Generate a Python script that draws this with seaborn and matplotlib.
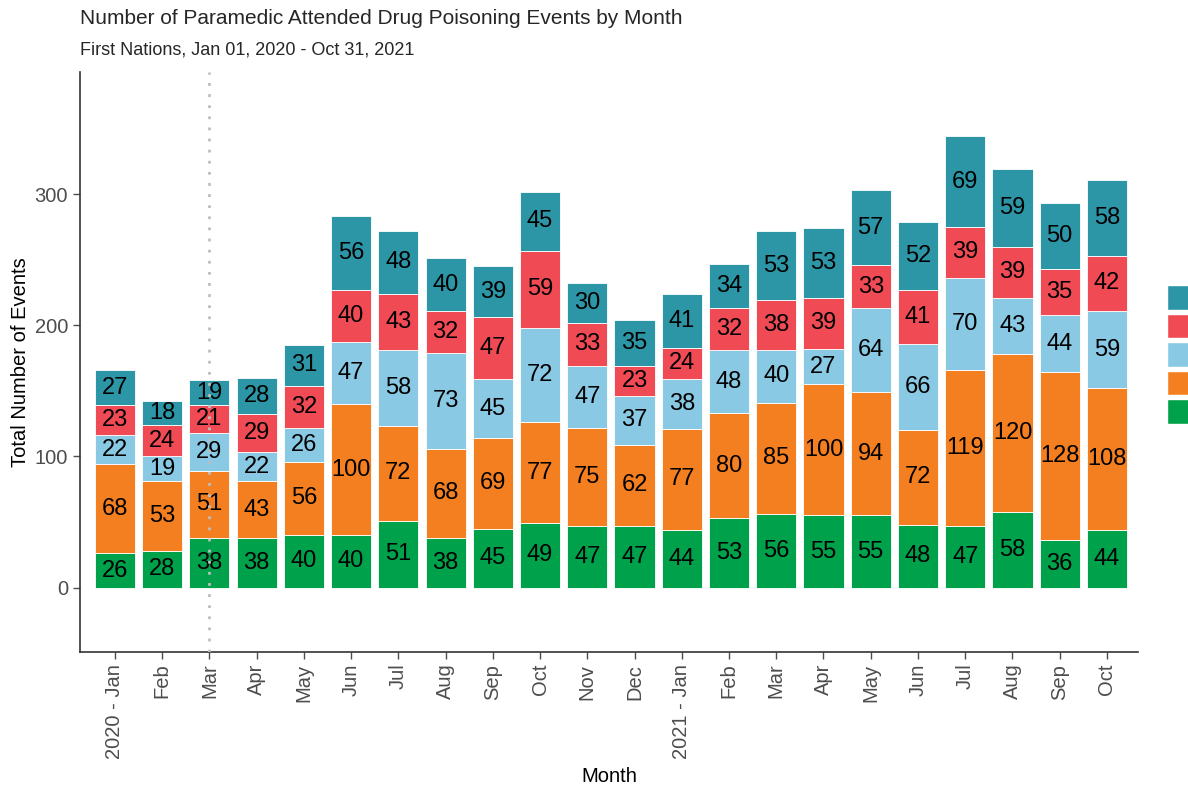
import numpy as np
import pandas as pd
import matplotlib
matplotlib.use("Agg")
import matplotlib.pyplot as plt
from matplotlib.patches import Patch
import seaborn as sns

# mjeseci (x os)
months = ["2020 - Jan", "Feb", "Mar", "Apr", "May", "Jun", "Jul", "Aug", "Sep", "Oct", "Nov", "Dec",
          "2021 - Jan", "Feb", "Mar", "Apr", "May", "Jun", "Jul", "Aug", "Sep", "Oct"]

# slojevi odozdo prema gore (legenda je odrezana, pa su nazivi generički)
green = [26, 28, 38, 38, 40, 40, 51, 38, 45, 49, 47, 47, 44, 53, 56, 55, 55, 48, 47, 58, 36, 44]
orange = [68, 53, 51, 43, 56, 100, 72, 68, 69, 77, 75, 62, 77, 80, 85, 100, 94, 72, 119, 120, 128, 108]
light_blue = [22, 19, 29, 22, 26, 47, 58, 73, 45, 72, 47, 37, 38, 48, 40, 27, 64, 66, 70, 43, 44, 59]
red = [23, 24, 21, 29, 32, 40, 43, 32, 47, 59, 33, 23, 24, 32, 38, 39, 33, 41, 39, 39, 35, 42]
teal = [27, 18, 19, 28, 31, 56, 48, 40, 39, 45, 30, 35, 41, 34, 53, 53, 57, 52, 69, 59, 50, 58]

layers = [green, orange, light_blue, red, teal]
colors = ["#00A14B", "#F47F20", "#89C9E3", "#F04B55", "#2C96A7"]

sns.set_theme(style="white")
plt.rcParams["font.family"] = ["Liberation Sans", "DejaVu Sans"]

fig = plt.figure(figsize=(11.88, 7.93), dpi=100)
ax = fig.add_axes([0.0673, 0.178, 0.8907, 0.731])

df = pd.DataFrame({"idx": np.arange(len(months))})
bottom = np.zeros(len(months))
for vals, col in zip(layers, colors):
    sns.barplot(x=df["idx"], y=vals, bottom=bottom, color=col, width=0.85,
                edgecolor="white", linewidth=0.6, saturation=1, ax=ax)
    ax.bar_label(ax.containers[-1], labels=[str(v) for v in vals],
                 label_type="center", fontsize=17, color="black")
    bottom = bottom + np.array(vals)

# isprekidana linija kod ozujka 2020
ax.axvline(2, color="#BEBEBE", ls=(0, (1, 3)), lw=2, zorder=5)

ax.set_xlim(-0.74, 21.66)
ax.set_ylim(-49, 393)
ax.set_yticks([0, 100, 200, 300])
ax.set_xticks(range(len(months)))
ax.set_xticklabels(months, rotation=90)
ax.tick_params(axis="both", colors="#4D4D4D", labelsize=14.5, length=5, width=1,
               bottom=True, left=True)
for s in ["top", "right"]:
    ax.spines[s].set_visible(False)
for s in ["left", "bottom"]:
    ax.spines[s].set_color("#333333")
    ax.spines[s].set_linewidth(1.2)

ax.set_xlabel("Month", fontsize=14.5, color="black", labelpad=6)
ax.set_ylabel("Total Number of Events", fontsize=14.5, color="black", labelpad=3)

fig.text(0.0673, 0.977, "Number of Paramedic Attended Drug Poisoning Events by Month",
         fontsize=15, va="center", ha="left")
fig.text(0.0673, 0.937, "First Nations, Jan 01, 2020 - Oct 31, 2021",
         fontsize=13, va="center", ha="left")

# legenda (odrezana na desnom rubu kao u originalu)
handles = [Patch(facecolor=c, edgecolor="white", linewidth=1) for c in colors[::-1]]
fig.legend(handles=handles, labels=[""] * 5, loc="upper left",
           bbox_to_anchor=(0.982, 0.64), frameon=False, borderpad=0,
           borderaxespad=0, handlelength=2.2, handleheight=2.1,
           labelspacing=0.25, handletextpad=0)

fig.savefig("out.png", dpi=100)
